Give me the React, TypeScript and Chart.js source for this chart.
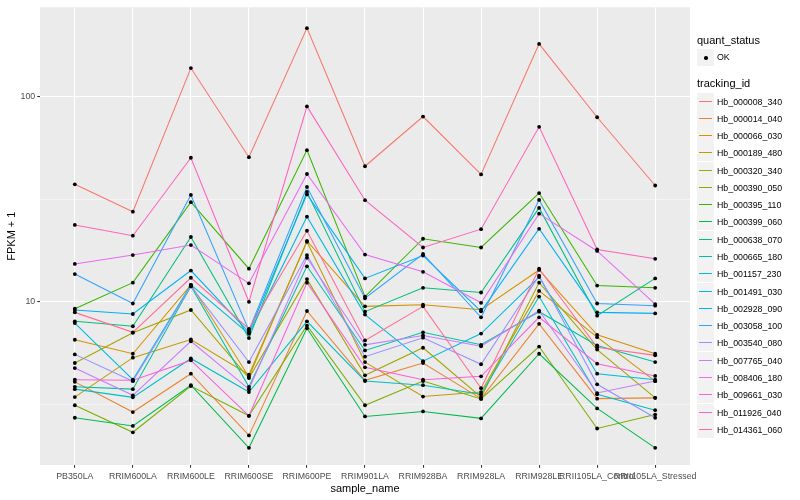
import React, { useEffect, useRef } from "react";
import { Chart, registerables } from "chart.js";

Chart.register(...registerables);

const FONT = "'Liberation Sans', Arial, Helvetica, sans-serif";

// Categories (x axis)
const samples = [
  "PB350LA",
  "RRIM600LA",
  "RRIM600LE",
  "RRIM600SE",
  "RRIM600PE",
  "RRIM901LA",
  "RRIM928BA",
  "RRIM928LA",
  "RRIM928LE",
  "RRII105LA_Control",
  "RRII105LA_Stressed",
];

// Series values (FPKM + 1), one array per tracking_id, in sample order
const Hb_000008_340 = [37.4, 27.5, 138, 50.7, 216, 45.8, 80, 41.8, 181, 79.4, 36.9];
const Hb_000014_040 = [4.07, 2.9, 4.46, 2.23, 9.02, 4.14, 5.03, 3.37, 7.81, 3.37, 3.4];
const Hb_000066_030 = [6.53, 5.58, 12.1, 4.3, 19.8, 9.5, 9.68, 9.15, 14.3, 6.9, 5.58];
const Hb_000189_480 = [3.43, 5.34, 6.55, 4.41, 19.6, 5.08, 3.45, 3.63, 11.3, 6.72, 4.1];
const Hb_000320_340 = [5.03, 7.06, 9.12, 4.25, 12.9, 4.38, 5.97, 3.43, 12.4, 5.85, 3.4];
const Hb_000390_050 = [3.13, 2.31, 3.88, 2.78, 7.66, 3.13, 4.11, 3.36, 6.05, 2.41, 2.82];
const Hb_000395_110 = [9.26, 12.4, 30.6, 14.5, 54.9, 10.6, 20.3, 18.4, 33.9, 12.0, 11.7];
const Hb_000399_060 = [2.72, 2.48, 3.92, 1.94, 7.43, 2.76, 2.92, 2.7, 5.58, 3.02, 1.94];
const Hb_000638_070 = [8.03, 7.6, 20.7, 6.65, 34.3, 8.95, 11.7, 11.1, 28.7, 8.56, 13.0];
const Hb_000665_180 = [3.85, 3.75, 11.9, 3.85, 14.9, 5.79, 7.1, 6.17, 8.95, 6.12, 5.08];
const Hb_001157_230 = [3.75, 3.42, 5.29, 3.63, 8.03, 4.11, 3.92, 3.54, 10.6, 3.54, 2.96];
const Hb_001491_030 = [7.88, 4.17, 12.1, 6.98, 26.0, 8.66, 5.13, 7.0, 13.2, 4.46, 4.17];
const Hb_002928_090 = [9.12, 8.72, 14.2, 7.1, 33.4, 13.0, 16.8, 8.98, 22.7, 8.88, 8.78];
const Hb_003058_100 = [13.65, 9.81, 33.2, 7.25, 36.3, 10.4, 17.1, 8.4, 31.4, 9.81, 9.57];
const Hb_003540_080 = [5.54, 4.1, 11.9, 5.08, 16.9, 5.4, 6.68, 4.96, 13.4, 3.96, 2.72];
const Hb_007765_040 = [4.75, 3.5, 6.42, 3.75, 16.4, 6.17, 6.85, 6.07, 9.05, 3.59, 4.11];
const Hb_008406_180 = [15.3, 16.9, 18.9, 12.3, 42.0, 17.0, 14.0, 9.89, 26.9, 17.7, 9.75];
const Hb_009661_030 = [4.17, 4.14, 5.18, 2.78, 12.4, 4.79, 4.17, 4.33, 8.4, 4.99, 4.35];
const Hb_011926_040 = [23.7, 21.0, 50.4, 10.0, 89.7, 31.3, 18.4, 22.6, 71.3, 18.0, 16.2];
const Hb_014361_060 = [8.88, 7.1, 13.1, 7.38, 22.2, 6.48, 9.5, 3.79, 14.5, 6.0, 5.48];

const trackingIds = [
  "Hb_000008_340",
  "Hb_000014_040",
  "Hb_000066_030",
  "Hb_000189_480",
  "Hb_000320_340",
  "Hb_000390_050",
  "Hb_000395_110",
  "Hb_000399_060",
  "Hb_000638_070",
  "Hb_000665_180",
  "Hb_001157_230",
  "Hb_001491_030",
  "Hb_002928_090",
  "Hb_003058_100",
  "Hb_003540_080",
  "Hb_007765_040",
  "Hb_008406_180",
  "Hb_009661_030",
  "Hb_011926_040",
  "Hb_014361_060",
];

const seriesValues = [
  Hb_000008_340,
  Hb_000014_040,
  Hb_000066_030,
  Hb_000189_480,
  Hb_000320_340,
  Hb_000390_050,
  Hb_000395_110,
  Hb_000399_060,
  Hb_000638_070,
  Hb_000665_180,
  Hb_001157_230,
  Hb_001491_030,
  Hb_002928_090,
  Hb_003058_100,
  Hb_003540_080,
  Hb_007765_040,
  Hb_008406_180,
  Hb_009661_030,
  Hb_011926_040,
  Hb_014361_060,
];

const colors = [
  "#F8766D",
  "#EA8331",
  "#D89000",
  "#C09B00",
  "#A3A500",
  "#7CAE00",
  "#39B600",
  "#00BB4E",
  "#00BF7D",
  "#00C1A3",
  "#00BFC4",
  "#00BAE0",
  "#00B0F6",
  "#35A2FF",
  "#9590FF",
  "#C77CFF",
  "#E76BF3",
  "#FA62DB",
  "#FF62BC",
  "#FF6C91",
];

// Y axis ticks
const yMajorTicks = [10, 100];
const yMinorTicks = [3.1623, 31.623];
const yMin = 1.6;
const yMax = 273;

const panelBg = {
  id: "panelBg",
  beforeDraw(chart: any) {
    const { ctx, chartArea: a } = chart;
    ctx.save();
    ctx.fillStyle = "#EBEBEB";
    ctx.fillRect(a.left, a.top, a.right - a.left, a.bottom - a.top);
    ctx.restore();
  },
};

function ChartCanvas() {
  const ref = useRef<HTMLCanvasElement | null>(null);

  useEffect(() => {
    if (!ref.current) return;
    const lineSets = seriesValues.map((vals, si) => ({
      label: trackingIds[si],
      data: vals.map((v, i) => ({ x: i, y: v })),
      borderColor: colors[si],
      backgroundColor: colors[si],
      borderWidth: 1.07,
      pointRadius: 0,
      tension: 0,
      fill: false,
      order: 100 - si,
    }));
    const points: { x: number; y: number }[] = [];
    seriesValues.forEach((vals) => vals.forEach((v, i) => points.push({ x: i, y: v })));
    const pointSet = {
      label: "OK",
      data: points,
      showLine: false,
      pointRadius: 1.9,
      pointBorderWidth: 0,
      pointBackgroundColor: "#000000",
      borderColor: "#000000",
      order: -1,
    };

    const chart = new Chart(ref.current, {
      type: "line",
      data: { datasets: [...lineSets, pointSet] as any },
      plugins: [panelBg],
      options: {
        responsive: false,
        animation: false,
        devicePixelRatio: 1,
        layout: { padding: { left: 0, right: 110, top: 5, bottom: 0 } },
        plugins: {
          legend: { display: false },
          tooltip: { enabled: false },
        },
        events: [],
        scales: {
          x: {
            type: "linear",
            min: -0.6,
            max: 10.6,
            afterBuildTicks: (s: any) => {
              s.ticks = samples.map((_, i) => ({ value: i }));
            },
            afterFit: (s: any) => {
              s.height = 35;
            },
            ticks: {
              autoSkip: false,
              maxRotation: 0,
              minRotation: 0,
              padding: 4,
              color: "#4D4D4D",
              font: { family: FONT, size: 8.8 },
              callback: (v: any) => samples[Math.round(Number(v))] ?? "",
            },
            grid: {
              color: "#FFFFFF",
              lineWidth: 1.07,
              tickLength: 2.75,
              tickColor: "#333333",
              tickWidth: 1.07,
            },
            border: { display: false },
            title: {
              display: true,
              text: "sample_name",
              color: "#000000",
              font: { family: FONT, size: 11 },
              padding: { top: 0, bottom: 4 },
            },
          },
          y: {
            type: "logarithmic",
            min: yMin,
            max: yMax,
            afterBuildTicks: (s: any) => {
              s.ticks = [...yMinorTicks, ...yMajorTicks]
                .sort((a, b) => a - b)
                .map((v) => ({ value: v }));
            },
            afterFit: (s: any) => {
              s.width = 40;
            },
            ticks: {
              autoSkip: false,
              padding: 2,
              color: "#4D4D4D",
              font: { family: FONT, size: 8.8 },
              callback: (v: any) => (yMajorTicks.includes(Number(v)) ? String(v) : ""),
            },
            grid: {
              color: "#FFFFFF",
              lineWidth: (c: any) =>
                c.tick && yMajorTicks.includes(c.tick.value) ? 1.07 : 0.53,
              tickLength: 2.75,
              tickColor: (c: any) =>
                c.tick && yMajorTicks.includes(c.tick.value) ? "#333333" : "rgba(0,0,0,0)",
              tickWidth: 1.07,
            },
            border: { display: false },
            title: {
              display: true,
              text: "FPKM + 1",
              color: "#000000",
              font: { family: FONT, size: 11 },
              padding: { top: 5, bottom: 0 },
            },
          },
        },
      } as any,
    });
    return () => chart.destroy();
  }, []);

  return (
    <canvas
      ref={ref}
      width={800}
      height={500}
      style={{ position: "absolute", left: 0, top: 0, width: 800, height: 500 }}
    />
  );
}

function Legend() {
  const keyLeft = 697;
  const textLeft = 717;
  const itemStart = 101;
  const itemStep = 17.28;
  const box = 17;
  return (
    <div style={{ position: "absolute", left: 0, top: 0, fontFamily: FONT }}>
      <div
        style={{
          position: "absolute",
          left: keyLeft,
          top: 33,
          height: 14,
          lineHeight: "14px",
          fontSize: 11,
          color: "#000",
          whiteSpace: "nowrap",
        }}
      >
        quant_status
      </div>
      <div
        style={{
          position: "absolute",
          left: keyLeft,
          top: 49,
          width: box,
          height: box,
          background: "#F2F2F2",
        }}
      />
      <div
        style={{
          position: "absolute",
          left: keyLeft + 7,
          top: 56,
          width: 3.5,
          height: 3.5,
          borderRadius: "50%",
          background: "#000",
        }}
      />
      <div
        style={{
          position: "absolute",
          left: textLeft,
          top: 50,
          height: 14,
          lineHeight: "14px",
          fontSize: 8.8,
          color: "#000",
        }}
      >
        OK
      </div>
      <div
        style={{
          position: "absolute",
          left: keyLeft,
          top: 76,
          height: 14,
          lineHeight: "14px",
          fontSize: 11,
          color: "#000",
          whiteSpace: "nowrap",
        }}
      >
        tracking_id
      </div>
      {trackingIds.map((id, i) => {
        const cy = itemStart + i * itemStep;
        const top = Math.round(cy - box / 2);
        return (
          <React.Fragment key={id}>
            <div
              style={{
                position: "absolute",
                left: keyLeft,
                top: top,
                width: box,
                height: box,
                background: "#F2F2F2",
              }}
            />
            <div
              style={{
                position: "absolute",
                left: keyLeft + 2,
                width: box - 4,
                top: top + 7.5,
                height: 1.6,
                background: colors[i],
              }}
            />
            <div
              style={{
                position: "absolute",
                left: textLeft,
                top: top + 1.5,
                height: 14,
                lineHeight: "14px",
                fontSize: 8.8,
                color: "#000",
                whiteSpace: "nowrap",
              }}
            >
              {id}
            </div>
          </React.Fragment>
        );
      })}
    </div>
  );
}

export default function App() {
  return (
    <div
      style={{
        position: "absolute",
        left: 0,
        top: 0,
        width: 800,
        height: 500,
        background: "#FFFFFF",
        overflow: "hidden",
      }}
    >
      <ChartCanvas />
      <Legend />
    </div>
  );
}
